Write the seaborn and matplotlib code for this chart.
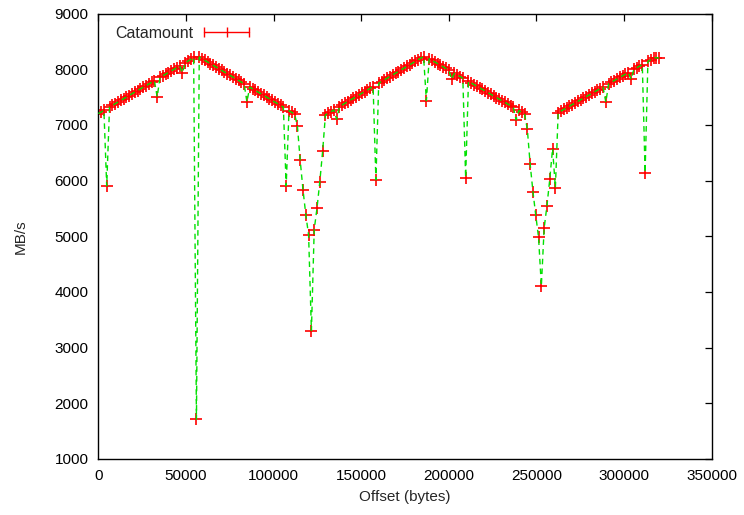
import matplotlib
matplotlib.use("Agg")
import matplotlib.pyplot as plt
import seaborn as sns
import pandas as pd
from matplotlib.lines import Line2D

# ---- data ----
step_bytes = 1600
mbps = [
    7205, 7230, 7262, 5905, 7320, 7350, 7380, 7410, 7440, 7470,
    7500, 7528, 7560, 7590, 7615, 7648, 7676, 7705, 7735, 7765,
    7795, 7504, 7855, 7885, 7912, 7940, 7970, 8000, 8030, 8060,
    7935, 8118, 8148, 8178, 8215, 1711, 8220, 8190, 8160, 8130,
    8100, 8070, 8040, 8010, 7980, 7950, 7920, 7890, 7860, 7830,
    7800, 7770, 7740, 7413, 7680, 7650, 7620, 7590, 7560, 7530,
    7500, 7470, 7440, 7410, 7380, 7350, 7320, 5905, 7255, 7225,
    7197, 6982, 6366, 5833, 5390, 5020, 3307, 5120, 5510, 5982,
    6528, 7180, 7210, 7240, 7270, 7102, 7330, 7360, 7390, 7420,
    7450, 7480, 7510, 7540, 7570, 7600, 7630, 7660, 7690, 6013,
    7750, 7780, 7810, 7840, 7870, 7900, 7930, 7960, 7990, 8020,
    8050, 8080, 8110, 8140, 8170, 8200, 8226, 7436, 8190, 8160,
    8130, 8100, 8072, 8043, 8015, 7985, 7820, 7928, 7900, 7870,
    7840, 6054, 7782, 7753, 7724, 7695, 7666, 7637, 7608, 7580,
    7550, 7520, 7490, 7462, 7433, 7405, 7376, 7347, 7318, 7090,
    7260, 7230, 7198, 6923, 6300, 5803, 5379, 4984, 4110, 5145,
    5551, 6025, 6575, 5874, 7221, 7250, 7278, 7307, 7336, 7365,
    7394, 7422, 7451, 7480, 7509, 7538, 7566, 7595, 7624, 7653,
    7682, 7408, 7740, 7768, 7797, 7826, 7855, 7884, 7912, 7941,
    7820, 7999, 8028, 8056, 8085, 6144, 8143, 8172, 8200, 8210,
    8200,
]
offsets = list(range(0, step_bytes * len(mbps), step_bytes))
series_label = "Catamount"
x_ticks = [0, 50000, 100000, 150000, 200000, 250000, 300000, 350000]
y_ticks = [1000, 2000, 3000, 4000, 5000, 6000, 7000, 8000, 9000]

df = pd.DataFrame({"offset": offsets, "mbps": mbps})

sns.set_style("white")
plt.rcParams["font.family"] = ["Liberation Sans", "DejaVu Sans"]

fig = plt.figure(figsize=(7.44, 5.15), dpi=100)
ax = fig.add_axes([98.3 / 744, 1 - 459 / 515, (711.7 - 98.3) / 744, (459 - 13.6) / 515])

sns.scatterplot(data=df, x="offset", y="mbps", ax=ax, marker="+", s=64,
                color="#ff0000", linewidth=1.2, zorder=2, legend=False)
sns.lineplot(data=df, x="offset", y="mbps", ax=ax, color="#00e000",
             linewidth=1.0, dashes=False, linestyle=(0, (4, 3)), zorder=3,
             legend=False, errorbar=None, sort=False)

ax.set_xlim(0, 350000)
ax.set_ylim(1000, 9000)
ax.set_xticks(x_ticks)
ax.set_yticks(y_ticks)
ax.set_xticklabels([str(t) for t in x_ticks])
ax.set_yticklabels([str(t) for t in y_ticks])
ax.tick_params(direction="in", length=5, width=0.9, top=True, right=True,
               labelsize=11, colors="black", pad=7)
for sp in ax.spines.values():
    sp.set_visible(True)
    sp.set_color("black")
    sp.set_linewidth(1.0)

ax.set_xlabel("Offset (bytes)", fontsize=11, labelpad=5)
ax.set_ylabel("MB/s", fontsize=11, labelpad=19)

handle = Line2D([], [], color="#ff0000", linewidth=1.0, marker="|",
                markersize=7, markeredgewidth=1.0)
ax.legend([handle], [series_label], loc="upper left", frameon=False,
          markerfirst=False, numpoints=3, handlelength=3.4, fontsize=11.5,
          bbox_to_anchor=(0.005, 1.005), handletextpad=0.35)

fig.savefig("out.png", dpi=100)
